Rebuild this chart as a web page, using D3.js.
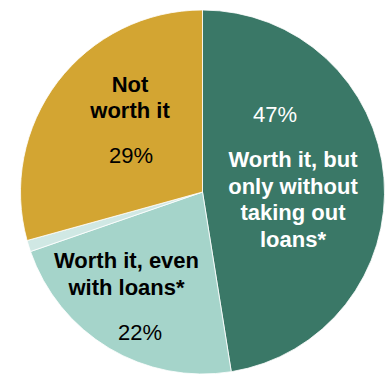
<!DOCTYPE html>
<meta charset="UTF-8">
<style>
	body { margin: 0; background: #fff; }
	.lbl { font-family: "Liberation Sans", Arial, sans-serif; font-size: 22px; }
	.bold { font-weight: bold; }
</style>
<body>
<script src="https://d3js.org/d3.v7.min.js"></script>
<script>
	// data
	var categories = ["Worth it, but only without taking out loans*", "Worth it, even with loans*", "No answer", "Not worth it"];
	var values = [47, 22, 1, 29];
	var pctLabels = ["47%", "22%", "", "29%"];
	var colors = ["#3a7867", "#a5d4ca", "#d0e8e4", "#d3a532"];

	var width = 385, height = 374,
		cx = 202.5, cy = 192, radius = 182;

	var svg = d3.select("body").append("svg")
		.attr("width", width)
		.attr("height", height);

	var g = svg.append("g")
		.attr("transform", "translate(" + cx + "," + cy + ")");

	var pie = d3.pie().sort(null).value(d => d);
	var arc = d3.arc().innerRadius(0).outerRadius(radius);

	var slices = pie(values);

	g.selectAll("path.slice")
		.data(slices)
		.enter().append("path")
		.attr("class", "slice")
		.attr("d", arc)
		.attr("fill", (d, i) => colors[i])
		.attr("stroke", "#fff")
		.attr("stroke-width", 0.8);

	// label placement (relative to centre), text colour per slice
	var labelLayout = [
		{ name: ["Worth it, but", "only without", "taking out", "loans*"], nx: 90.5, ny: -25, lh: 26.7, px: 72.5, py: -70, color: "#fff" },
		{ name: ["Worth it, even", "with loans*"], nx: -76, ny: 76, lh: 27, px: -62.5, py: 148, color: "#000" },
		null,
		{ name: ["Not", "worth it"], nx: -72.5, ny: -100, lh: 26, px: -71.5, py: -29, color: "#000" }
	];

	labelLayout.forEach(function (l, i) {
		if (!l) return;
		var t = g.append("text")
			.attr("class", "lbl bold")
			.attr("text-anchor", "middle")
			.attr("fill", l.color);
		l.name.forEach(function (line, k) {
			t.append("tspan")
				.attr("x", l.nx)
				.attr("y", l.ny + k * l.lh)
				.text(line);
		});
		g.append("text")
			.attr("class", "lbl")
			.attr("text-anchor", "middle")
			.attr("fill", l.color)
			.attr("x", l.px)
			.attr("y", l.py)
			.text(pctLabels[i]);
	});
</script>
</body>
